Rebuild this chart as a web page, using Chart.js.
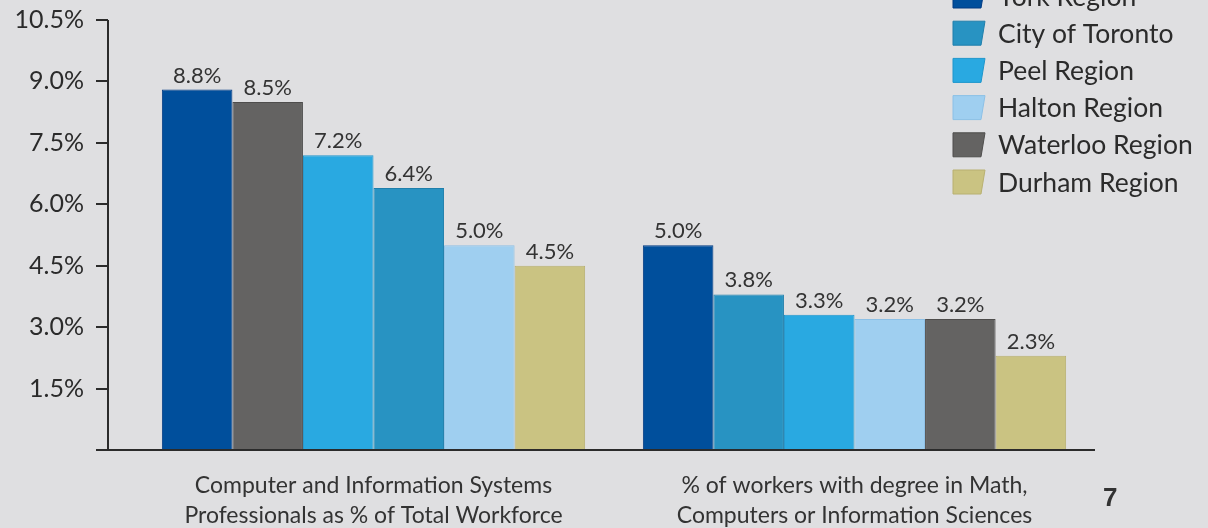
<!DOCTYPE html>
<html>
<head>
<meta charset="utf-8">
<script src="https://cdn.jsdelivr.net/npm/chart.js@4.4.1/dist/chart.umd.min.js"></script>
<style>
  html, body { margin: 0; padding: 0; background: #dfdfe1; }
  #wrap { position: relative; width: 1208px; height: 528px; }
  #page { position: absolute; left: 1103px; top: 482px; font: bold 26px "Liberation Sans", Arial, sans-serif; color: #333; }
</style>
</head>
<body>
<div id="wrap">
  <canvas id="chart" width="1208" height="528"></canvas>
  <div id="page">7</div>
</div>
<script>
// categories (x axis, two lines each)
const categories = [
    ['Computer and Information Systems', 'Professionals as % of Total Workforce'],
    ['% of workers with degree in Math,', 'Computers or Information Sciences']
];
const regions = ['York Region', 'City of Toronto', 'Peel Region', 'Halton Region', 'Waterloo Region', 'Durham Region'];
const regionColors = ['#004f9c', '#2893c2', '#29a9e1', '#9fcff0', '#646362', '#cac382'];
const regionBorders = ['#003a82', '#1f7fab', '#1f96cc', '#8cc0e6', '#4e4d4c', '#b8b070'];

// values per region, in the order of `regions`
const itProfessionals = [8.8, 6.4, 7.2, 5.0, 8.5, 4.5];
const mathCsDegree = [5.0, 3.8, 3.3, 3.2, 3.2, 2.3];

const yMax = 10.5;
const yStep = 1.5;

const FONT = 'Lato';

// bars are sorted high -> low inside each group, so build one dataset per slot
const byCategory = [itProfessionals, mathCsDegree];
const order = byCategory.map(vals => regions.map((_, i) => i).sort((a, b) => vals[b] - vals[a]));
const datasets = regions.map((_, slot) => ({
    label: 'slot ' + slot,
    data: order.map((o, c) => byCategory[c][o[slot]]),
    backgroundColor: order.map(o => regionColors[o[slot]]),
    borderColor: order.map(o => regionBorders[o[slot]]),
    borderWidth: 1,
    barPercentage: 1,
    categoryPercentage: 0.88
}));

const decorations = {
    id: 'decorations',
    afterDraw(chart) {
        const ctx = chart.ctx;
        const area = chart.chartArea;
        const y = chart.scales.y;
        ctx.save();
        // axes
        ctx.strokeStyle = '#2b2b2b';
        ctx.lineWidth = 2;
        ctx.beginPath();
        ctx.moveTo(108, y.getPixelForValue(yMax));
        ctx.lineTo(108, area.bottom);
        ctx.moveTo(96, area.bottom);
        ctx.lineTo(area.right, area.bottom);
        for (let v = yStep; v <= yMax + 0.001; v += yStep) {
            const py = Math.round(y.getPixelForValue(v));
            ctx.moveTo(96, py);
            ctx.lineTo(108, py);
        }
        ctx.stroke();

        // value labels
        ctx.fillStyle = '#333';
        ctx.font = '22px ' + FONT;
        ctx.textAlign = 'center';
        ctx.textBaseline = 'alphabetic';
        chart.data.datasets.forEach((ds, i) => {
            chart.getDatasetMeta(i).data.forEach((bar, j) => {
                ctx.fillText(ds.data[j].toFixed(1) + '%', bar.x, bar.y - 7);
            });
        });

        // legend
        ctx.font = '26.5px ' + FONT;
        ctx.textAlign = 'left';
        ctx.textBaseline = 'middle';
        regions.forEach((name, i) => {
            const cy = -4 + i * 37.2;
            ctx.fillStyle = regionColors[i];
            ctx.strokeStyle = regionBorders[i];
            ctx.lineWidth = 1;
            ctx.beginPath();
            ctx.moveTo(953, cy - 12);
            ctx.lineTo(985, cy - 12);
            ctx.lineTo(981, cy + 12);
            ctx.lineTo(953, cy + 12);
            ctx.closePath();
            ctx.fill();
            ctx.stroke();
            ctx.fillStyle = '#2b2b2b';
            ctx.fillText(name, 998, cy + 1);
        });
        ctx.restore();
    }
};

new Chart(document.getElementById('chart'), {
    type: 'bar',
    data: {
        labels: categories,
        datasets: datasets
    },
    options: {
        responsive: false,
        animation: false,
        layout: { padding: { left: 0, right: 113, top: 20, bottom: 0 } },
        plugins: {
            legend: { display: false },
            tooltip: { enabled: false }
        },
        scales: {
            x: {
                grid: { display: false, drawTicks: false },
                border: { display: false },
                ticks: {
                    color: '#333',
                    padding: 21,
                    font: { family: FONT, size: 23, lineHeight: 1.3 }
                },
                afterFit: scale => { scale.height = 78; }
            },
            y: {
                min: 0,
                max: yMax,
                grid: { display: false, drawTicks: true, tickLength: 45 },
                border: { display: false },
                ticks: {
                    stepSize: yStep,
                    color: '#2b2b2b',
                    padding: 4,
                    font: { family: FONT, size: 25 },
                    callback: v => v === 0 ? '' : v.toFixed(1) + '%'
                },
                afterFit: scale => { scale.width = 133; }
            }
        }
    },
    plugins: [decorations]
});
</script>
</body>
</html>
